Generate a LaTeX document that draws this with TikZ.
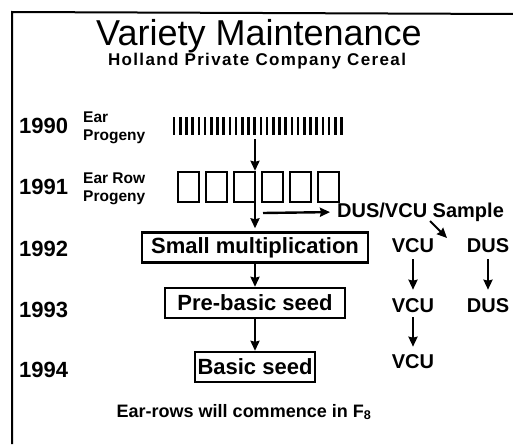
\documentclass[tikz,border=0pt]{standalone}
\usepackage{fontspec}
\setmainfont{Liberation Sans}
\usetikzlibrary{arrows.meta,positioning}
\tikzset{
  stage/.style={draw, line width=2.4pt, minimum height=30pt, inner sep=0pt, font=\fontsize{22}{22}\selectfont\bfseries},
  year/.style={anchor=west, inner sep=0pt, font=\fontsize{22}{22}\selectfont\bfseries},
  gen/.style={anchor=west, align=left, inner sep=0pt, font=\fontsize{15.5}{18}\selectfont\bfseries},
  trial/.style={inner sep=0pt, font=\fontsize{20}{20}\selectfont\bfseries},
  flow/.style={->, line width=2.4pt},
}
\begin{document}
\begin{tikzpicture}[x=1pt, y=-1pt, >={Stealth[length=10pt,width=9pt,inset=1pt]}]
	\useasboundingbox (0,0) rectangle (513,444);
	% frame
	\draw[line width=2pt] (12,444) -- (12,12) -- (513,14);
	
	% title
	\node[inner sep=0pt, font=\fontsize{36}{36}\selectfont] (title) at (259,36) {Variety Maintenance};
	\node[inner sep=0pt, font=\fontsize{17}{17}\selectfont\bfseries\addfontfeature{LetterSpace=8}] (sub) at (257,61) {Holland Private Company Cereal};
	
	% years and generations
	\node[year] (y90) at (19,126) {1990};
	\node[year] (y91) at (19,187) {1991};
	\node[year] (y92) at (19,249) {1992};
	\node[year] (y93) at (19,310) {1993};
	\node[year] (y94) at (19,370) {1994};
	\node[gen] (g90) at (83,128) {Ear\\Progeny};
	\node[gen] (g91) at (83,189) {Ear Row\\Progeny};
	
	% ears and ear rows
	\node[minimum width=174pt, minimum height=18pt, inner sep=0pt] (bars) at (260,126) {};
	\foreach \i in {0,...,27}
		\draw[line width=2.6pt] ({174+6.2*\i},117) -- ++(0,18);
	\foreach \i in {1,...,6}
		\node[draw, line width=2.4pt, minimum width=21pt, minimum height=30pt, inner sep=0pt] (sq\i) at ({160.5+28*\i},187) {};
	\coordinate (col) at (255,0);
	
	% seed stages
	\node[stage, minimum width=226pt] (small) at (255,247.5) {Small multiplication};
	\node[stage, minimum width=180pt] (pre) at (255,303) {Pre-basic seed};
	\node[stage, minimum width=120pt] (basic) at (255,367) {Basic seed};
	
	\draw[flow, shorten <=4pt] (bars.south -| col) -- (sq3.north -| col);
	\draw[flow, shorten >=3pt] (sq3.south -| col) -- (small.north);
	\draw[flow] (small.south) -- (pre.north);
	\draw[flow] (pre.south) -- (basic.north);
	
	% trials
	\node[trial, anchor=west] (sample) at (337,212) {DUS/VCU Sample};
	\coordinate (split) at (263,213);
	\draw[flow, shorten >=7pt] (split) -- (sample.west);
	\coordinate (d0) at (430,221);
	\coordinate (d1) at (447,238);
	\draw[flow, line width=2pt] (d0) -- (d1);
	
	\node[trial] (v92) at (413,246) {VCU};
	\node[trial] (d92) at (488,246) {DUS};
	\node[trial] (v93) at (413,306) {VCU};
	\node[trial] (d93) at (488,306) {DUS};
	\node[trial] (v94) at (413,362) {VCU};
	\draw[flow, shorten <=6pt, shorten >=9pt] (v92) -- (v93);
	\draw[flow, shorten <=6pt, shorten >=9pt] (d92) -- (d93);
	\draw[flow, shorten <=4pt, shorten >=8pt] (v93) -- (v94);
	
	% note
	\node[font=\fontsize{18}{18}\selectfont\bfseries] (note) at (244,412) {Ear-rows will commence in F\textsubscript{8}};
\end{tikzpicture}
\end{document}
